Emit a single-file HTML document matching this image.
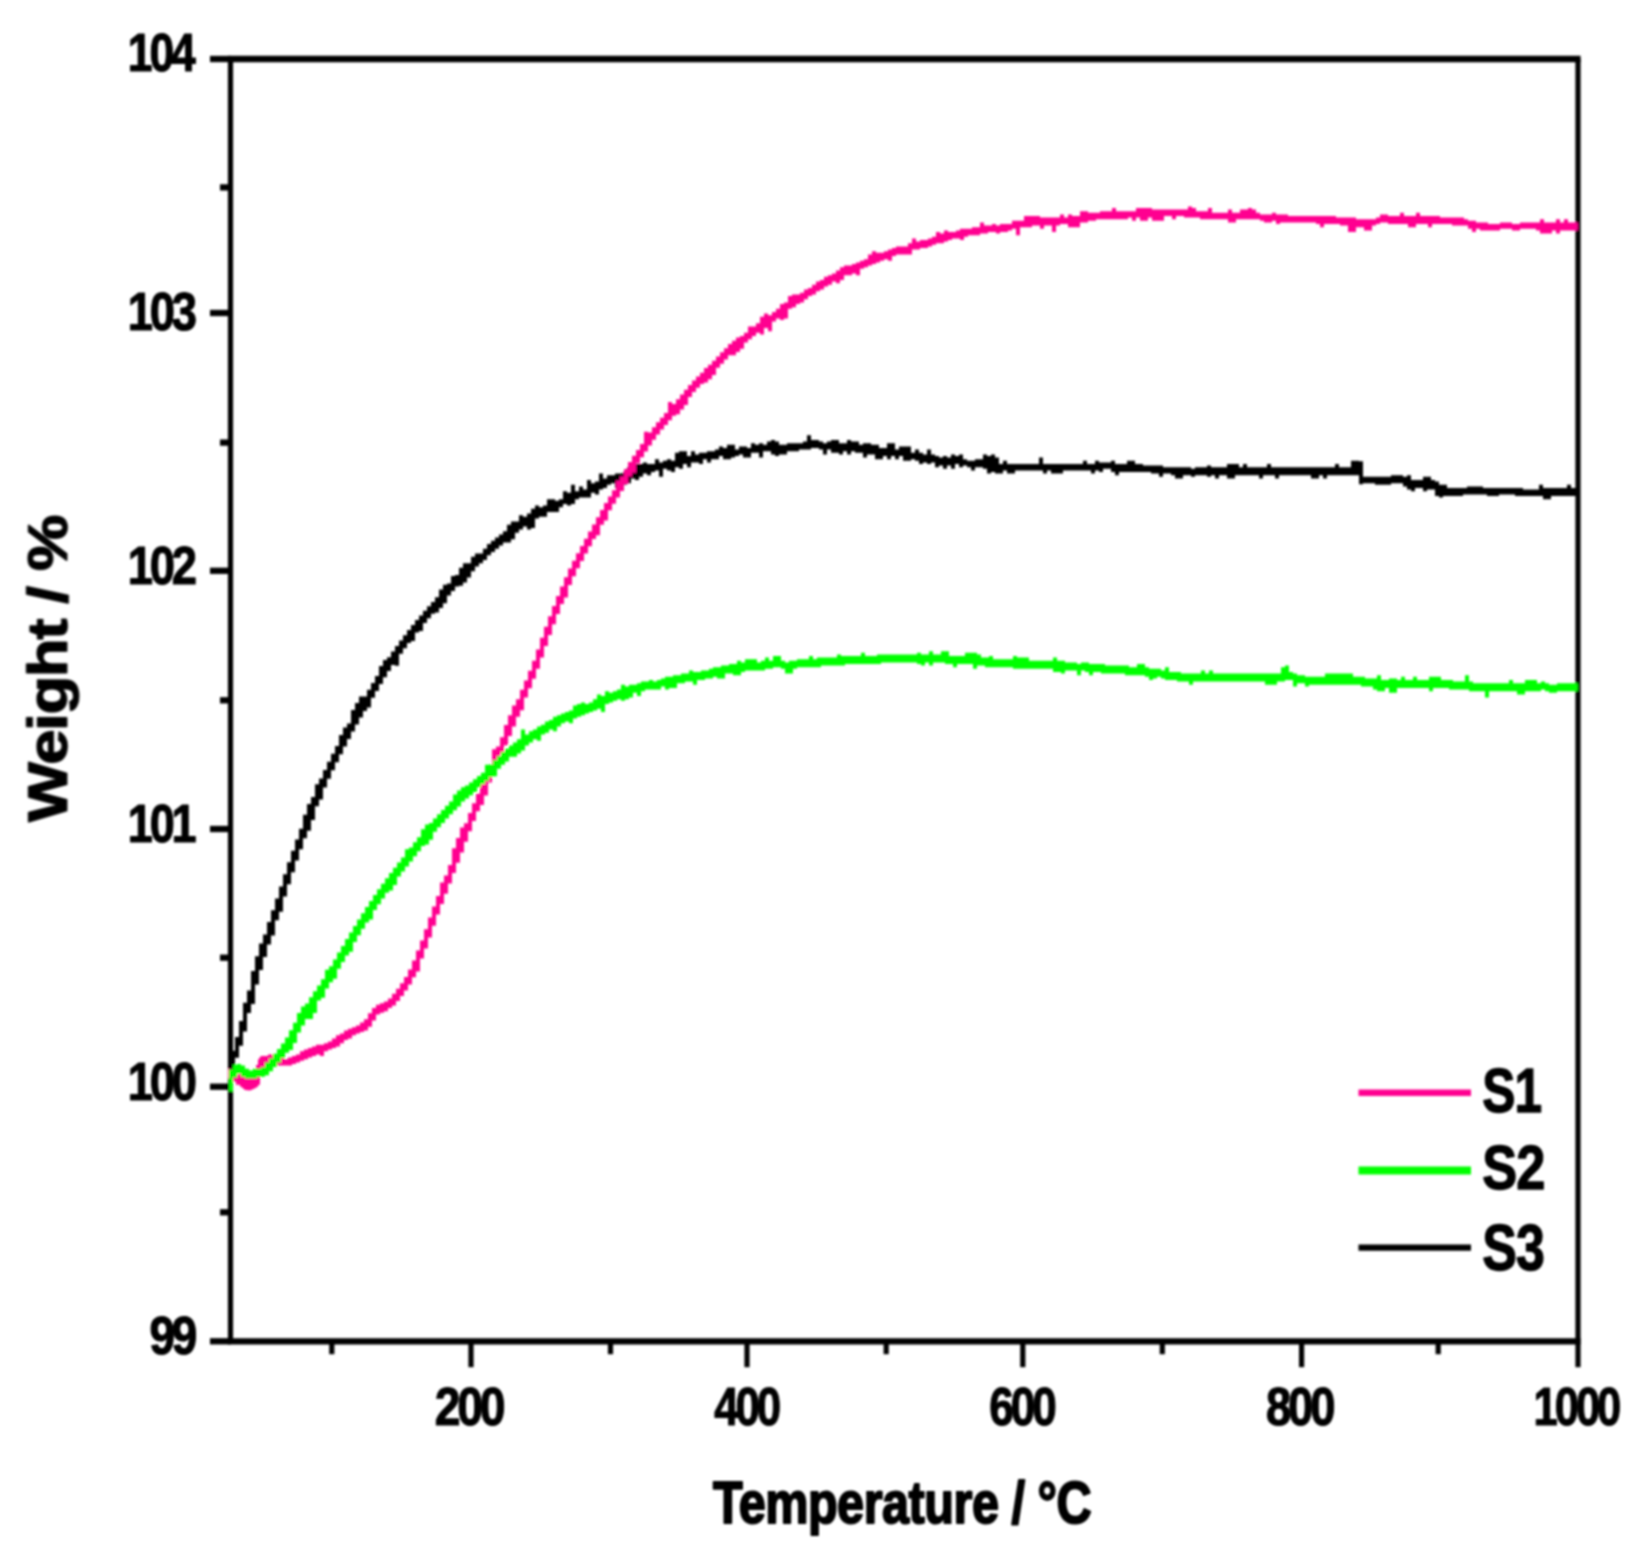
<!DOCTYPE html>
<html lang="en"><head><meta charset="utf-8"><title>TGA curves: Weight / % vs Temperature / °C</title>
<style>
html,body{margin:0;padding:0;background:#fff;}
body{width:1648px;height:1561px;overflow:hidden;font-family:"Liberation Sans",sans-serif;}
svg{display:block;}
</style></head>
<body>
<svg width="1648" height="1561" viewBox="0 0 1648 1561">
<defs><filter id="soft" x="0" y="0" width="1648" height="1561" filterUnits="userSpaceOnUse"><feGaussianBlur stdDeviation="0.85"/></filter></defs>
<rect width="1648" height="1561" fill="#fff"/>
<g filter="url(#soft)">
<g stroke="#000" fill="none" stroke-linecap="butt">
<line x1="230.5" y1="59.0" x2="230.5" y2="1341.3" stroke-width="5.2"/>
<line x1="1578.0" y1="59.0" x2="1578.0" y2="1341.3" stroke-width="5.2"/>
<line x1="227.9" y1="59.0" x2="1580.6" y2="59.0" stroke-width="6.3"/>
<line x1="227.9" y1="1341.3" x2="1580.6" y2="1341.3" stroke-width="6.3"/>
<line x1="210" y1="59.0" x2="230.5" y2="59.0" stroke-width="6.3"/>
<line x1="210" y1="313.0" x2="230.5" y2="313.0" stroke-width="6.3"/>
<line x1="210" y1="570.8" x2="230.5" y2="570.8" stroke-width="6.3"/>
<line x1="210" y1="829.0" x2="230.5" y2="829.0" stroke-width="6.3"/>
<line x1="210" y1="1086.7" x2="230.5" y2="1086.7" stroke-width="6.3"/>
<line x1="210" y1="1341.3" x2="230.5" y2="1341.3" stroke-width="6.3"/>
<line x1="220" y1="187.4" x2="230.5" y2="187.4" stroke-width="6.3"/>
<line x1="220" y1="442.6" x2="230.5" y2="442.6" stroke-width="6.3"/>
<line x1="220" y1="700.3" x2="230.5" y2="700.3" stroke-width="6.3"/>
<line x1="220" y1="957.7" x2="230.5" y2="957.7" stroke-width="6.3"/>
<line x1="220" y1="1212.3" x2="230.5" y2="1212.3" stroke-width="6.3"/>
<line x1="471.0" y1="1341.3" x2="471.0" y2="1367.2" stroke-width="5.2"/>
<line x1="747.0" y1="1341.3" x2="747.0" y2="1367.2" stroke-width="5.2"/>
<line x1="1022.8" y1="1341.3" x2="1022.8" y2="1367.2" stroke-width="5.2"/>
<line x1="1301.6" y1="1341.3" x2="1301.6" y2="1367.2" stroke-width="5.2"/>
<line x1="1578.0" y1="1341.3" x2="1578.0" y2="1367.2" stroke-width="5.2"/>
<line x1="331.8" y1="1341.3" x2="331.8" y2="1354.2" stroke-width="5.2"/>
<line x1="610.5" y1="1341.3" x2="610.5" y2="1354.2" stroke-width="5.2"/>
<line x1="886.2" y1="1341.3" x2="886.2" y2="1354.2" stroke-width="5.2"/>
<line x1="1162.3" y1="1341.3" x2="1162.3" y2="1354.2" stroke-width="5.2"/>
<line x1="1438.2" y1="1341.3" x2="1438.2" y2="1354.2" stroke-width="5.2"/>
</g>
<g stroke="none">
<path fill="#000" d="M231.0,1050.8H235.0V1037.1H239.0V1021.0H243.0V1002.7H247.0V990.4H251.0V970.9H255.0V956.3H259.0V943.4H263.0V934.5H267.0V922.1H271.0V910.3H275.0V898.5H279.0V886.4H283.0V874.2H287.0V862.2H291.0V850.8H295.0V839.6H299.0V828.7H303.0V814.7H307.0V804.0H311.0V797.0H315.0V784.3H319.0V778.6H323.0V770.1H327.0V761.8H331.0V753.7H335.0V745.9H339.0V735.1H343.0V727.5H347.0V723.4H351.0V709.9H355.0V703.0H359.0V696.5H363.0V696.4H367.0V689.7H371.0V682.9H375.0V676.0H379.0V666.1H383.0V659.9H387.0V657.2H391.0V651.5H395.0V646.0H399.0V640.6H403.0V635.2H407.0V630.1H411.0V625.0H415.0V620.1H419.0V615.4H423.0V610.8H427.0V606.3H431.0V601.9H435.0V597.3H439.0V589.4H443.0V584.8H447.0V583.5H451.0V576.0H455.0V575.0H459.0V567.8H463.0V563.2H467.0V563.2H471.0V556.8H475.0V553.6H479.0V553.6H483.0V548.8H487.0V544.0H491.0V540.8H495.0V537.6H499.0V534.4H503.0V531.2H507.0V524.8H511.0V521.6H515.0V521.6H519.0V515.2H523.0V516.8H527.0V513.6H531.0V508.8H535.0V505.6H539.0V507.2H543.0V505.6H547.0V499.2H551.0V499.2H555.0V500.8H559.0V499.2H563.0V491.2H567.0V492.8H571.0V484.8H575.0V491.2H579.0V486.4H583.0V489.6H587.0V480.0H591.0V483.2H595.0V481.6H599.0V473.6H603.0V478.4H607.0V475.2H611.0V475.2H615.0V473.6H619.0V473.6H623.0V472.0H627.0V467.2H631.0V468.8H635.0V464.0H639.0V464.0H643.0V462.4H647.0V464.0H651.0V464.0H655.0V459.2H659.0V462.4H663.0V460.8H667.0V459.2H671.0V460.8H675.0V452.8H679.0V451.2H683.0V451.2H687.0V456.0H691.0V451.2H695.0V454.4H699.0V452.8H703.0V452.8H707.0V451.2H711.0V451.2H715.0V449.6H719.0V446.4H723.0V448.0H727.0V444.8H731.0V444.8H735.0V449.6H739.0V446.4H743.0V446.4H747.0V448.0H751.0V443.2H755.0V444.8H759.0V443.2H763.0V444.8H767.0V441.6H771.0V440.0H775.0V441.6H779.0V444.8H783.0V444.8H787.0V443.2H791.0V443.2H795.0V443.2H799.0V443.2H803.0V441.6H807.0V435.2H811.0V440.0H815.0V440.0H819.0V441.6H823.0V443.2H827.0V441.6H831.0V440.0H835.0V440.0H839.0V443.2H843.0V443.2H847.0V440.0H851.0V441.6H855.0V441.6H859.0V444.8H863.0V443.2H867.0V443.2H871.0V444.8H875.0V444.8H879.0V448.0H883.0V448.0H887.0V443.2H891.0V443.2H895.0V449.6H899.0V446.4H903.0V446.4H907.0V446.4H911.0V452.8H915.0V449.6H919.0V452.8H923.0V454.4H927.0V449.6H931.0V454.4H935.0V456.0H939.0V457.6H943.0V456.0H947.0V457.6H951.0V454.4H955.0V456.0H959.0V454.4H963.0V459.2H967.0V460.8H971.0V460.8H975.0V459.2H979.0V459.2H983.0V454.4H987.0V456.0H991.0V454.4H995.0V457.6H999.0V464.0H1003.0V460.8H1007.0V464.0H1011.0V464.0H1015.0V464.0H1019.0V464.0H1023.0V464.0H1027.0V464.0H1031.0V464.0H1035.0V464.0H1039.0V457.6H1043.0V464.0H1047.0V464.0H1051.0V464.0H1055.0V464.0H1059.0V464.0H1063.0V464.0H1067.0V464.0H1071.0V464.0H1075.0V464.0H1079.0V464.0H1083.0V460.8H1087.0V464.0H1091.0V464.0H1095.0V460.8H1099.0V462.4H1103.0V462.4H1107.0V462.4H1111.0V460.8H1115.0V464.0H1119.0V464.0H1123.0V464.0H1127.0V460.8H1131.0V460.8H1135.0V464.0H1139.0V464.0H1143.0V465.6H1147.0V465.6H1151.0V465.6H1155.0V465.6H1159.0V465.6H1163.0V467.2H1167.0V467.2H1171.0V467.2H1175.0V467.2H1179.0V467.2H1183.0V467.2H1187.0V467.2H1191.0V468.8H1195.0V467.2H1199.0V467.2H1203.0V467.2H1207.0V465.6H1211.0V467.2H1215.0V467.2H1219.0V467.2H1223.0V467.2H1227.0V464.0H1231.0V464.0H1235.0V464.0H1239.0V467.2H1243.0V464.0H1247.0V467.2H1251.0V467.2H1255.0V467.2H1259.0V467.2H1263.0V467.2H1267.0V464.0H1271.0V467.2H1275.0V467.2H1279.0V467.2H1283.0V467.2H1287.0V467.2H1291.0V467.2H1295.0V467.2H1299.0V467.2H1303.0V467.2H1307.0V467.2H1311.0V467.2H1315.0V467.2H1319.0V467.2H1323.0V467.2H1327.0V467.2H1331.0V467.2H1335.0V464.0H1339.0V467.2H1343.0V467.2H1347.0V467.2H1351.0V460.8H1355.0V460.8H1359.0V461.2H1363.0V476.8H1367.0V476.8H1371.0V476.8H1375.0V476.8H1379.0V476.8H1383.0V476.8H1387.0V476.8H1391.0V475.2H1395.0V475.2H1399.0V475.2H1403.0V476.8H1407.0V475.2H1411.0V480.0H1415.0V480.0H1419.0V480.0H1423.0V476.8H1427.0V476.8H1431.0V480.0H1435.0V481.6H1439.0V484.8H1443.0V484.8H1447.0V488.0H1451.0V488.0H1455.0V488.0H1459.0V488.0H1463.0V488.0H1467.0V486.4H1471.0V486.4H1475.0V486.4H1479.0V486.4H1483.0V488.0H1487.0V488.0H1491.0V488.0H1495.0V488.0H1499.0V488.0H1503.0V488.0H1507.0V488.0H1511.0V488.0H1515.0V488.0H1519.0V488.0H1523.0V489.6H1527.0V489.6H1531.0V489.6H1535.0V489.6H1539.0V484.8H1543.0V488.0H1547.0V488.0H1551.0V488.0H1555.0V488.0H1559.0V488.0H1563.0V488.0H1567.0V484.8H1571.0V488.0H1575.0V488.0H1577.8V496.0H1575.0V496.0H1571.0V496.0H1567.0V496.0H1563.0V496.0H1559.0V496.0H1555.0V496.0H1551.0V499.2H1547.0V499.2H1543.0V496.0H1539.0V496.0H1535.0V496.0H1531.0V496.0H1527.0V496.0H1523.0V496.0H1519.0V496.0H1515.0V494.4H1511.0V494.4H1507.0V494.4H1503.0V494.4H1499.0V496.0H1495.0V496.0H1491.0V496.0H1487.0V494.4H1483.0V494.4H1479.0V494.4H1475.0V494.4H1471.0V494.4H1467.0V494.4H1463.0V496.0H1459.0V496.0H1455.0V496.0H1451.0V496.0H1447.0V496.0H1443.0V497.6H1439.0V496.0H1435.0V489.6H1431.0V489.6H1427.0V491.2H1423.0V488.0H1419.0V488.0H1415.0V491.2H1411.0V489.6H1407.0V486.4H1403.0V483.2H1399.0V483.2H1395.0V483.2H1391.0V484.8H1387.0V484.8H1383.0V484.8H1379.0V484.8H1375.0V483.2H1371.0V483.2H1367.0V483.2H1363.0V484.3H1359.0V475.2H1355.0V475.2H1351.0V475.2H1347.0V475.2H1343.0V475.2H1339.0V475.2H1335.0V475.2H1331.0V475.2H1327.0V478.4H1323.0V475.2H1319.0V478.4H1315.0V478.4H1311.0V475.2H1307.0V475.2H1303.0V475.2H1299.0V475.2H1295.0V475.2H1291.0V475.2H1287.0V475.2H1283.0V475.2H1279.0V478.4H1275.0V475.2H1271.0V475.2H1267.0V475.2H1263.0V478.4H1259.0V475.2H1255.0V475.2H1251.0V475.2H1247.0V475.2H1243.0V475.2H1239.0V475.2H1235.0V478.4H1231.0V478.4H1227.0V475.2H1223.0V475.2H1219.0V478.4H1215.0V475.2H1211.0V476.8H1207.0V475.2H1203.0V475.2H1199.0V475.2H1195.0V476.8H1191.0V475.2H1187.0V475.2H1183.0V478.4H1179.0V478.4H1175.0V475.2H1171.0V473.6H1167.0V473.6H1163.0V476.8H1159.0V473.6H1155.0V473.6H1151.0V472.0H1147.0V472.0H1143.0V472.0H1139.0V472.0H1135.0V472.0H1131.0V472.0H1127.0V472.0H1123.0V472.0H1119.0V475.2H1115.0V472.0H1111.0V468.8H1107.0V468.8H1103.0V472.0H1099.0V470.4H1095.0V473.6H1091.0V470.4H1087.0V470.4H1083.0V470.4H1079.0V470.4H1075.0V470.4H1071.0V470.4H1067.0V470.4H1063.0V473.6H1059.0V473.6H1055.0V473.6H1051.0V470.4H1047.0V473.6H1043.0V470.4H1039.0V470.4H1035.0V470.4H1031.0V470.4H1027.0V470.4H1023.0V470.4H1019.0V470.4H1015.0V473.6H1011.0V473.6H1007.0V470.4H1003.0V473.6H999.0V473.6H995.0V472.0H991.0V473.6H987.0V468.8H983.0V467.2H979.0V467.2H975.0V470.4H971.0V467.2H967.0V465.6H963.0V467.2H959.0V464.0H955.0V468.8H951.0V465.6H947.0V468.8H943.0V465.6H939.0V467.2H935.0V462.4H931.0V464.0H927.0V462.4H923.0V464.0H919.0V460.8H915.0V459.2H911.0V460.8H907.0V460.8H903.0V456.0H899.0V459.2H895.0V456.0H891.0V459.2H887.0V456.0H883.0V459.2H879.0V459.2H875.0V454.4H871.0V454.4H867.0V457.6H863.0V452.8H859.0V452.8H855.0V451.2H851.0V454.4H847.0V451.2H843.0V454.4H839.0V452.8H835.0V452.8H831.0V449.6H827.0V454.4H823.0V449.6H819.0V448.0H815.0V448.0H811.0V449.6H807.0V449.6H803.0V449.6H799.0V451.2H795.0V451.2H791.0V451.2H787.0V454.4H783.0V454.4H779.0V456.0H775.0V454.4H771.0V451.2H767.0V451.2H763.0V457.6H759.0V452.8H755.0V452.8H751.0V457.6H747.0V457.6H743.0V454.4H739.0V456.0H735.0V457.6H731.0V459.2H727.0V459.2H723.0V456.0H719.0V459.2H715.0V459.2H711.0V462.4H707.0V459.2H703.0V464.0H699.0V462.4H695.0V462.4H691.0V467.2H687.0V464.0H683.0V468.8H679.0V467.2H675.0V472.0H671.0V470.4H667.0V468.8H663.0V476.8H659.0V470.4H655.0V472.0H651.0V475.2H647.0V473.6H643.0V476.8H639.0V480.0H635.0V478.4H631.0V483.2H627.0V484.8H623.0V481.6H619.0V488.0H615.0V483.2H611.0V484.8H607.0V488.0H603.0V489.6H599.0V494.4H595.0V492.8H591.0V497.6H587.0V497.6H583.0V497.6H579.0V499.2H575.0V504.0H571.0V505.6H567.0V504.0H563.0V507.2H559.0V512.0H555.0V512.0H551.0V512.0H547.0V516.8H543.0V516.8H539.0V518.4H535.0V528.0H531.0V529.6H527.0V526.4H523.0V529.6H519.0V532.8H515.0V539.2H511.0V542.4H507.0V542.4H503.0V545.6H499.0V548.8H495.0V552.0H491.0V555.2H487.0V560.0H483.0V563.2H479.0V566.4H475.0V571.2H471.0V577.6H467.0V582.4H463.0V585.7H459.0V586.6H455.0V590.9H451.0V595.5H447.0V603.3H443.0V608.0H439.0V612.6H435.0V613.8H431.0V618.3H427.0V622.9H423.0V630.9H419.0V632.6H415.0V640.9H411.0V642.9H407.0V648.3H403.0V653.7H399.0V665.7H395.0V665.0H391.0V671.0H387.0V677.3H383.0V684.1H379.0V691.0H375.0V697.8H371.0V707.6H367.0V710.9H363.0V717.5H359.0V724.4H355.0V731.6H351.0V739.0H347.0V746.6H343.0V754.3H339.0V762.2H335.0V770.3H331.0V778.7H327.0V787.4H323.0V799.6H319.0V806.2H315.0V819.9H311.0V830.7H307.0V838.3H303.0V849.3H299.0V860.6H295.0V872.2H291.0V884.3H287.0V896.5H283.0V911.7H279.0V920.3H275.0V935.4H271.0V944.6H267.0V956.9H263.0V969.9H259.0V984.5H255.0V1003.9H251.0V1013.0H247.0V1031.4H243.0V1045.8H239.0V1057.8H235.0V1073.5H231.0Z"/>
<path fill="#ff0090" d="M228.0,1068.8H232.0V1072.0H236.0V1075.2H240.0V1078.4H244.0V1080.0H248.0V1080.0H252.0V1076.8H256.0V1065.1H260.0V1057.4H264.0V1056.0H268.0V1054.4H272.0V1054.4H276.0V1057.6H280.0V1057.6H284.0V1059.2H288.0V1057.6H292.0V1056.0H296.0V1054.4H300.0V1051.2H304.0V1049.6H308.0V1048.0H312.0V1046.4H316.0V1044.8H320.0V1044.8H324.0V1043.2H328.0V1041.6H332.0V1038.4H336.0V1035.2H340.0V1033.6H344.0V1030.4H348.0V1028.8H352.0V1027.2H356.0V1025.6H360.0V1022.4H364.0V1019.2H368.0V1013.2H372.0V1007.9H376.0V1004.8H380.0V1003.2H384.0V1001.6H388.0V998.4H392.0V993.8H396.0V988.7H400.0V983.3H404.0V977.1H408.0V969.5H412.0V960.5H416.0V950.6H420.0V940.4H424.0V929.2H428.0V917.6H432.0V906.5H436.0V896.0H440.0V882.6H444.0V875.4H448.0V865.1H452.0V848.3H456.0V837.9H460.0V827.4H464.0V823.2H468.0V813.1H472.0V803.3H476.0V793.8H480.0V784.3H484.0V774.7H488.0V765.2H492.0V749.3H496.0V746.5H500.0V737.3H504.0V724.9H508.0V715.3H512.0V705.6H516.0V699.2H520.0V689.8H524.0V680.4H528.0V670.8H532.0V660.7H536.0V649.4H540.0V637.8H544.0V626.8H548.0V616.2H552.0V606.0H556.0V596.1H560.0V586.4H564.0V577.2H568.0V568.6H572.0V560.8H576.0V553.3H580.0V546.0H584.0V538.8H588.0V531.6H592.0V524.5H596.0V517.2H600.0V509.9H604.0V502.9H608.0V496.4H612.0V490.2H616.0V480.5H620.0V476.5H624.0V469.1H628.0V462.1H632.0V455.8H636.0V449.9H640.0V444.1H644.0V431.8H648.0V432.5H652.0V427.2H656.0V422.3H660.0V417.7H664.0V413.1H668.0V402.1H672.0V403.9H676.0V399.2H680.0V394.5H684.0V389.7H688.0V384.9H692.0V380.6H696.0V376.4H700.0V372.8H704.0V368.0H708.0V364.8H712.0V360.7H716.0V356.5H720.0V352.3H724.0V348.3H728.0V344.0H732.0V340.8H736.0V337.6H740.0V336.0H744.0V332.8H748.0V326.4H752.0V326.4H756.0V323.2H760.0V316.8H764.0V313.6H768.0V315.2H772.0V312.0H776.0V308.8H780.0V304.0H784.0V302.4H788.0V296.0H792.0V294.4H796.0V294.4H800.0V292.8H804.0V289.6H808.0V288.0H812.0V284.8H816.0V281.6H820.0V280.0H824.0V276.8H828.0V275.2H832.0V273.6H836.0V270.4H840.0V267.2H844.0V265.6H848.0V265.6H852.0V264.0H856.0V262.4H860.0V260.8H864.0V259.2H868.0V254.4H872.0V251.2H876.0V252.8H880.0V252.8H884.0V251.2H888.0V249.6H892.0V248.0H896.0V246.4H900.0V246.4H904.0V246.4H908.0V243.2H912.0V238.4H916.0V241.6H920.0V240.0H924.0V240.0H928.0V238.4H932.0V236.8H936.0V232.0H940.0V233.6H944.0V230.4H948.0V232.0H952.0V232.0H956.0V230.4H960.0V228.8H964.0V228.8H968.0V228.8H972.0V227.2H976.0V227.2H980.0V222.4H984.0V225.6H988.0V225.6H992.0V224.0H996.0V225.6H1000.0V224.0H1004.0V224.0H1008.0V224.0H1012.0V220.8H1016.0V220.8H1020.0V220.8H1024.0V216.0H1028.0V216.0H1032.0V216.0H1036.0V216.0H1040.0V217.6H1044.0V217.6H1048.0V217.6H1052.0V217.6H1056.0V217.6H1060.0V214.4H1064.0V217.6H1068.0V214.4H1072.0V216.0H1076.0V216.0H1080.0V211.2H1084.0V211.2H1088.0V212.8H1092.0V212.8H1096.0V212.8H1100.0V211.2H1104.0V211.2H1108.0V211.2H1112.0V208.0H1116.0V211.2H1120.0V211.2H1124.0V211.2H1128.0V211.2H1132.0V211.2H1136.0V208.0H1140.0V208.0H1144.0V208.0H1148.0V208.0H1152.0V209.6H1156.0V209.6H1160.0V209.6H1164.0V209.6H1168.0V209.6H1172.0V209.6H1176.0V209.6H1180.0V209.6H1184.0V209.6H1188.0V206.4H1192.0V208.0H1196.0V211.2H1200.0V211.2H1204.0V211.2H1208.0V208.0H1212.0V212.8H1216.0V212.8H1220.0V212.8H1224.0V212.8H1228.0V209.6H1232.0V212.8H1236.0V212.8H1240.0V209.6H1244.0V209.6H1248.0V208.0H1252.0V209.6H1256.0V212.8H1260.0V214.4H1264.0V214.4H1268.0V214.4H1272.0V212.8H1276.0V214.4H1280.0V214.4H1284.0V214.4H1288.0V216.0H1292.0V216.0H1296.0V216.0H1300.0V216.0H1304.0V216.0H1308.0V216.0H1312.0V216.0H1316.0V216.0H1320.0V216.0H1324.0V216.0H1328.0V216.0H1332.0V216.0H1336.0V217.6H1340.0V217.6H1344.0V217.6H1348.0V217.6H1352.0V217.6H1356.0V219.2H1360.0V219.2H1364.0V219.2H1368.0V219.2H1372.0V219.2H1376.0V217.6H1380.0V214.4H1384.0V214.4H1388.0V216.0H1392.0V216.0H1396.0V216.0H1400.0V212.8H1404.0V216.0H1408.0V216.0H1412.0V216.0H1416.0V212.8H1420.0V216.0H1424.0V216.0H1428.0V216.0H1432.0V216.0H1436.0V216.0H1440.0V217.6H1444.0V217.6H1448.0V217.6H1452.0V217.6H1456.0V217.6H1460.0V217.6H1464.0V219.2H1468.0V220.8H1472.0V220.8H1476.0V222.4H1480.0V222.4H1484.0V222.4H1488.0V224.0H1492.0V224.0H1496.0V224.0H1500.0V222.4H1504.0V222.4H1508.0V222.4H1512.0V224.0H1516.0V224.0H1520.0V222.4H1524.0V222.4H1528.0V222.4H1532.0V222.4H1536.0V222.4H1540.0V219.2H1544.0V222.4H1548.0V222.4H1552.0V222.4H1556.0V219.2H1560.0V222.4H1564.0V219.2H1568.0V222.4H1572.0V222.4H1576.0V222.4H1577.8V230.4H1576.0V230.4H1572.0V230.4H1568.0V230.4H1564.0V230.4H1560.0V233.6H1556.0V230.4H1552.0V233.6H1548.0V233.6H1544.0V233.6H1540.0V230.4H1536.0V228.8H1532.0V228.8H1528.0V228.8H1524.0V228.8H1520.0V230.4H1516.0V230.4H1512.0V228.8H1508.0V228.8H1504.0V228.8H1500.0V230.4H1496.0V230.4H1492.0V230.4H1488.0V230.4H1484.0V230.4H1480.0V228.8H1476.0V232.0H1472.0V228.8H1468.0V225.6H1464.0V225.6H1460.0V225.6H1456.0V225.6H1452.0V224.0H1448.0V224.0H1444.0V224.0H1440.0V224.0H1436.0V224.0H1432.0V227.2H1428.0V224.0H1424.0V224.0H1420.0V224.0H1416.0V227.2H1412.0V227.2H1408.0V224.0H1404.0V224.0H1400.0V224.0H1396.0V224.0H1392.0V224.0H1388.0V222.4H1384.0V222.4H1380.0V224.0H1376.0V225.6H1372.0V230.4H1368.0V230.4H1364.0V227.2H1360.0V227.2H1356.0V232.0H1352.0V232.0H1348.0V225.6H1344.0V225.6H1340.0V224.0H1336.0V224.0H1332.0V224.0H1328.0V224.0H1324.0V227.2H1320.0V224.0H1316.0V222.4H1312.0V222.4H1308.0V222.4H1304.0V222.4H1300.0V222.4H1296.0V222.4H1292.0V222.4H1288.0V222.4H1284.0V222.4H1280.0V224.0H1276.0V220.8H1272.0V222.4H1268.0V222.4H1264.0V220.8H1260.0V219.2H1256.0V219.2H1252.0V219.2H1248.0V219.2H1244.0V219.2H1240.0V219.2H1236.0V222.4H1232.0V222.4H1228.0V219.2H1224.0V219.2H1220.0V219.2H1216.0V219.2H1212.0V219.2H1208.0V219.2H1204.0V219.2H1200.0V217.6H1196.0V217.6H1192.0V217.6H1188.0V217.6H1184.0V216.0H1180.0V216.0H1176.0V219.2H1172.0V216.0H1168.0V216.0H1164.0V220.8H1160.0V220.8H1156.0V220.8H1152.0V217.6H1148.0V220.8H1144.0V220.8H1140.0V217.6H1136.0V220.8H1132.0V217.6H1128.0V219.2H1124.0V219.2H1120.0V219.2H1116.0V219.2H1112.0V219.2H1108.0V219.2H1104.0V219.2H1100.0V219.2H1096.0V220.8H1092.0V220.8H1088.0V222.4H1084.0V222.4H1080.0V227.2H1076.0V227.2H1072.0V227.2H1068.0V224.0H1064.0V224.0H1060.0V225.6H1056.0V232.0H1052.0V225.6H1048.0V225.6H1044.0V228.8H1040.0V225.6H1036.0V225.6H1032.0V227.2H1028.0V227.2H1024.0V227.2H1020.0V235.2H1016.0V228.8H1012.0V230.4H1008.0V232.0H1004.0V232.0H1000.0V233.6H996.0V232.0H992.0V232.0H988.0V233.6H984.0V233.6H980.0V235.2H976.0V235.2H972.0V235.2H968.0V236.8H964.0V240.0H960.0V238.4H956.0V238.4H952.0V240.0H948.0V241.6H944.0V243.2H940.0V243.2H936.0V244.8H932.0V246.4H928.0V248.0H924.0V248.0H920.0V249.6H916.0V249.6H912.0V254.4H908.0V254.4H904.0V254.4H900.0V254.4H896.0V256.0H892.0V260.8H888.0V259.2H884.0V260.8H880.0V262.4H876.0V264.0H872.0V265.6H868.0V267.2H864.0V268.8H860.0V275.2H856.0V273.6H852.0V275.2H848.0V275.2H844.0V280.0H840.0V283.2H836.0V281.6H832.0V284.8H828.0V286.4H824.0V289.6H820.0V291.2H816.0V294.4H812.0V296.0H808.0V299.2H804.0V302.4H800.0V304.0H796.0V307.2H792.0V308.8H788.0V318.4H784.0V320.0H780.0V318.4H776.0V321.6H772.0V331.2H768.0V328.0H764.0V334.4H760.0V332.8H756.0V336.0H752.0V339.2H748.0V342.4H744.0V348.8H740.0V352.0H736.0V355.2H732.0V355.2H728.0V359.5H724.0V363.7H720.0V367.8H716.0V375.1H712.0V379.2H708.0V382.4H704.0V384.0H700.0V387.7H696.0V392.1H692.0V396.9H688.0V404.9H684.0V409.6H680.0V414.3H676.0V415.7H672.0V420.3H668.0V424.9H664.0V429.5H660.0V434.4H656.0V439.8H652.0V445.6H648.0V451.4H644.0V457.2H640.0V463.2H636.0V472.7H632.0V476.6H628.0V484.0H624.0V491.1H620.0V497.6H616.0V503.8H612.0V510.3H608.0V520.6H604.0V524.7H600.0V535.2H596.0V539.1H592.0V546.3H588.0V553.5H584.0V560.9H580.0V568.3H576.0V576.3H572.0V585.0H568.0V597.5H564.0V604.0H560.0V613.9H556.0V624.2H552.0V634.9H548.0V646.0H544.0V657.6H540.0V668.7H536.0V678.7H532.0V688.2H528.0V697.6H524.0V710.2H520.0V716.7H516.0V726.4H512.0V735.9H508.0V745.2H504.0V754.3H500.0V763.5H496.0V773.0H492.0V782.6H488.0V795.4H484.0V804.9H480.0V811.2H476.0V821.0H472.0V831.2H468.0V841.8H464.0V852.4H460.0V862.7H456.0V873.1H452.0V883.4H448.0V893.8H444.0V904.1H440.0V914.6H436.0V925.8H432.0V937.4H428.0V948.5H424.0V958.6H420.0V971.6H416.0V977.2H412.0V984.5H408.0V990.6H404.0V995.9H400.0V1001.0H396.0V1005.5H392.0V1008.0H388.0V1011.2H384.0V1012.8H380.0V1014.4H376.0V1020.5H372.0V1026.7H368.0V1030.4H364.0V1032.0H360.0V1033.6H356.0V1035.2H352.0V1038.4H348.0V1040.0H344.0V1043.2H340.0V1046.4H336.0V1048.0H332.0V1049.6H328.0V1051.2H324.0V1056.0H320.0V1054.4H316.0V1056.0H312.0V1057.6H308.0V1059.2H304.0V1060.8H300.0V1062.4H296.0V1064.0H292.0V1065.6H288.0V1065.6H284.0V1065.6H280.0V1065.6H276.0V1062.4H272.0V1062.4H268.0V1064.0H264.0V1073.0H260.0V1084.7H256.0V1086.4H252.0V1086.4H248.0V1086.4H244.0V1086.4H240.0V1084.8H236.0V1081.6H232.0V1078.4H228.0Z"/>
<path fill="#ff0090" d="M237.5,1074L237.5,1081L241,1086.5L245,1090L250,1090.6L254.5,1088.4L258,1086.6L259.5,1079L259.5,1070ZM258,1069L258,1060L261,1056L274,1056L274,1063L264,1069Z"/>
<path fill="#00ff00" d="M229.0,1069.4H233.0V1064.7H237.0V1064.0H241.0V1065.6H245.0V1068.8H249.0V1070.4H253.0V1068.8H257.0V1068.8H261.0V1067.2H265.0V1062.4H269.0V1058.5H273.0V1053.8H277.0V1049.0H281.0V1043.6H285.0V1037.5H289.0V1030.2H293.0V1022.7H297.0V1012.9H301.0V1006.5H305.0V1003.5H309.0V997.3H313.0V991.3H317.0V985.4H321.0V979.3H325.0V969.7H329.0V966.2H333.0V959.4H337.0V952.6H341.0V945.9H345.0V939.1H349.0V932.4H353.0V925.9H357.0V919.5H361.0V913.2H365.0V907.0H369.0V901.0H373.0V895.1H377.0V889.3H381.0V883.7H385.0V878.2H389.0V872.9H393.0V867.7H397.0V862.6H401.0V857.6H405.0V849.3H409.0V847.4H413.0V842.3H417.0V837.3H421.0V829.3H425.0V824.5H429.0V823.1H433.0V818.6H437.0V814.2H441.0V809.9H445.0V805.7H449.0V801.6H453.0V794.4H457.0V790.4H461.0V787.2H465.0V785.6H469.0V782.4H473.0V779.2H477.0V776.0H481.0V772.8H485.0V764.8H489.0V764.4H493.0V760.2H497.0V756.2H501.0V752.0H505.0V748.8H509.0V745.6H513.0V742.4H517.0V739.2H521.0V729.6H525.0V734.4H529.0V731.2H533.0V729.6H537.0V726.4H541.0V724.8H545.0V721.6H549.0V720.0H553.0V716.8H557.0V715.2H561.0V713.6H565.0V712.0H569.0V710.4H573.0V705.6H577.0V704.0H581.0V702.4H585.0V704.0H589.0V702.4H593.0V699.2H597.0V694.4H601.0V696.0H605.0V691.2H609.0V692.8H613.0V691.2H617.0V689.6H621.0V684.8H625.0V686.4H629.0V684.8H633.0V684.8H637.0V683.2H641.0V681.6H645.0V681.6H649.0V680.0H653.0V681.6H657.0V680.0H661.0V678.4H665.0V676.8H669.0V676.8H673.0V675.2H677.0V675.2H681.0V673.6H685.0V673.6H689.0V670.4H693.0V672.0H697.0V672.0H701.0V670.4H705.0V670.4H709.0V668.8H713.0V667.2H717.0V667.2H721.0V665.6H725.0V665.6H729.0V664.0H733.0V664.0H737.0V660.8H741.0V662.4H745.0V659.2H749.0V659.2H753.0V659.2H757.0V662.4H761.0V660.8H765.0V657.6H769.0V660.8H773.0V656.0H777.0V656.0H781.0V660.8H785.0V662.4H789.0V660.8H793.0V660.8H797.0V659.2H801.0V659.2H805.0V659.2H809.0V656.0H813.0V659.2H817.0V657.6H821.0V657.6H825.0V657.6H829.0V657.6H833.0V657.6H837.0V654.4H841.0V656.0H845.0V656.0H849.0V656.0H853.0V656.0H857.0V656.0H861.0V652.8H865.0V656.0H869.0V656.0H873.0V656.0H877.0V654.4H881.0V654.4H885.0V654.4H889.0V654.4H893.0V654.4H897.0V654.4H901.0V654.4H905.0V654.4H909.0V654.4H913.0V654.4H917.0V652.8H921.0V654.4H925.0V654.4H929.0V651.2H933.0V654.4H937.0V654.4H941.0V651.2H945.0V651.2H949.0V656.0H953.0V656.0H957.0V656.0H961.0V656.0H965.0V652.8H969.0V652.8H973.0V652.8H977.0V654.4H981.0V657.6H985.0V657.6H989.0V656.0H993.0V659.2H997.0V659.2H1001.0V659.2H1005.0V659.2H1009.0V659.2H1013.0V656.0H1017.0V657.6H1021.0V657.6H1025.0V657.6H1029.0V660.8H1033.0V660.8H1037.0V660.8H1041.0V660.8H1045.0V660.8H1049.0V660.8H1053.0V657.6H1057.0V660.8H1061.0V660.8H1065.0V662.4H1069.0V662.4H1073.0V662.4H1077.0V664.0H1081.0V662.4H1085.0V662.4H1089.0V664.0H1093.0V664.0H1097.0V664.0H1101.0V664.0H1105.0V665.6H1109.0V665.6H1113.0V665.6H1117.0V665.6H1121.0V665.6H1125.0V665.6H1129.0V667.2H1133.0V667.2H1137.0V664.0H1141.0V664.0H1145.0V667.2H1149.0V668.8H1153.0V668.8H1157.0V668.8H1161.0V670.4H1165.0V667.2H1169.0V672.0H1173.0V672.0H1177.0V672.0H1181.0V673.6H1185.0V673.6H1189.0V673.6H1193.0V673.6H1197.0V673.6H1201.0V670.4H1205.0V673.6H1209.0V670.4H1213.0V673.6H1217.0V673.6H1221.0V673.6H1225.0V673.6H1229.0V673.6H1233.0V673.6H1237.0V673.6H1241.0V673.6H1245.0V673.6H1249.0V673.6H1253.0V673.6H1257.0V673.6H1261.0V673.6H1265.0V673.6H1269.0V673.6H1273.0V673.6H1277.0V673.6H1281.0V667.2H1285.0V665.6H1289.0V672.0H1293.0V673.6H1297.0V675.2H1301.0V675.2H1305.0V676.8H1309.0V676.8H1313.0V676.8H1317.0V676.8H1321.0V676.8H1325.0V673.6H1329.0V673.6H1333.0V673.6H1337.0V673.6H1341.0V673.6H1345.0V673.6H1349.0V673.6H1353.0V676.8H1357.0V676.8H1361.0V676.8H1365.0V678.4H1369.0V678.4H1373.0V678.4H1377.0V675.2H1381.0V680.0H1385.0V680.0H1389.0V678.4H1393.0V678.4H1397.0V680.0H1401.0V676.8H1405.0V680.0H1409.0V680.0H1413.0V676.8H1417.0V680.0H1421.0V680.0H1425.0V680.0H1429.0V676.8H1433.0V676.8H1437.0V676.8H1441.0V680.0H1445.0V680.0H1449.0V680.0H1453.0V681.6H1457.0V681.6H1461.0V681.6H1465.0V675.2H1469.0V681.6H1473.0V683.2H1477.0V683.2H1481.0V683.2H1485.0V683.2H1489.0V683.2H1493.0V683.2H1497.0V683.2H1501.0V683.2H1505.0V683.2H1509.0V680.0H1513.0V683.2H1517.0V683.2H1521.0V683.2H1525.0V680.0H1529.0V680.0H1533.0V680.0H1537.0V683.2H1541.0V681.6H1545.0V683.2H1549.0V684.8H1553.0V684.8H1557.0V683.2H1561.0V683.2H1565.0V683.2H1569.0V683.2H1573.0V683.2H1577.0V683.2H1577.8V691.2H1577.0V691.2H1573.0V691.2H1569.0V691.2H1565.0V691.2H1561.0V691.2H1557.0V692.8H1553.0V692.8H1549.0V691.2H1545.0V689.6H1541.0V691.2H1537.0V691.2H1533.0V691.2H1529.0V691.2H1525.0V694.4H1521.0V694.4H1517.0V691.2H1513.0V691.2H1509.0V691.2H1505.0V691.2H1501.0V691.2H1497.0V691.2H1493.0V691.2H1489.0V697.6H1485.0V691.2H1481.0V691.2H1477.0V691.2H1473.0V691.2H1469.0V689.6H1465.0V689.6H1461.0V689.6H1457.0V689.6H1453.0V689.6H1449.0V688.0H1445.0V688.0H1441.0V688.0H1437.0V688.0H1433.0V691.2H1429.0V688.0H1425.0V688.0H1421.0V688.0H1417.0V688.0H1413.0V688.0H1409.0V688.0H1405.0V688.0H1401.0V688.0H1397.0V692.8H1393.0V692.8H1389.0V688.0H1385.0V691.2H1381.0V691.2H1377.0V689.6H1373.0V686.4H1369.0V686.4H1365.0V686.4H1361.0V684.8H1357.0V684.8H1353.0V684.8H1349.0V684.8H1345.0V684.8H1341.0V684.8H1337.0V684.8H1333.0V684.8H1329.0V684.8H1325.0V684.8H1321.0V684.8H1317.0V684.8H1313.0V684.8H1309.0V686.4H1305.0V683.2H1301.0V683.2H1297.0V686.4H1293.0V680.0H1289.0V680.0H1285.0V681.6H1281.0V681.6H1277.0V684.8H1273.0V684.8H1269.0V684.8H1265.0V681.6H1261.0V681.6H1257.0V681.6H1253.0V681.6H1249.0V681.6H1245.0V681.6H1241.0V681.6H1237.0V681.6H1233.0V681.6H1229.0V681.6H1225.0V681.6H1221.0V681.6H1217.0V681.6H1213.0V681.6H1209.0V681.6H1205.0V681.6H1201.0V681.6H1197.0V681.6H1193.0V684.8H1189.0V681.6H1185.0V681.6H1181.0V681.6H1177.0V680.0H1173.0V680.0H1169.0V680.0H1165.0V678.4H1161.0V676.8H1157.0V678.4H1153.0V680.0H1149.0V676.8H1145.0V675.2H1141.0V675.2H1137.0V675.2H1133.0V675.2H1129.0V675.2H1125.0V673.6H1121.0V673.6H1117.0V673.6H1113.0V673.6H1109.0V673.6H1105.0V673.6H1101.0V672.0H1097.0V672.0H1093.0V675.2H1089.0V672.0H1085.0V670.4H1081.0V675.2H1077.0V670.4H1073.0V670.4H1069.0V670.4H1065.0V673.6H1061.0V672.0H1057.0V672.0H1053.0V668.8H1049.0V668.8H1045.0V668.8H1041.0V668.8H1037.0V668.8H1033.0V668.8H1029.0V668.8H1025.0V668.8H1021.0V668.8H1017.0V668.8H1013.0V667.2H1009.0V667.2H1005.0V667.2H1001.0V667.2H997.0V667.2H993.0V667.2H989.0V667.2H985.0V665.6H981.0V665.6H977.0V668.8H973.0V664.0H969.0V664.0H965.0V664.0H961.0V664.0H957.0V667.2H953.0V664.0H949.0V664.0H945.0V662.4H941.0V662.4H937.0V662.4H933.0V665.6H929.0V662.4H925.0V665.6H921.0V664.0H917.0V662.4H913.0V662.4H909.0V662.4H905.0V662.4H901.0V662.4H897.0V662.4H893.0V662.4H889.0V662.4H885.0V662.4H881.0V664.0H877.0V664.0H873.0V664.0H869.0V664.0H865.0V664.0H861.0V664.0H857.0V664.0H853.0V664.0H849.0V664.0H845.0V665.6H841.0V665.6H837.0V665.6H833.0V665.6H829.0V665.6H825.0V665.6H821.0V667.2H817.0V667.2H813.0V667.2H809.0V667.2H805.0V667.2H801.0V667.2H797.0V668.8H793.0V673.6H789.0V673.6H785.0V668.8H781.0V667.2H777.0V667.2H773.0V668.8H769.0V668.8H765.0V670.4H761.0V670.4H757.0V670.4H753.0V670.4H749.0V670.4H745.0V672.0H741.0V675.2H737.0V675.2H733.0V673.6H729.0V673.6H725.0V678.4H721.0V678.4H717.0V676.8H713.0V678.4H709.0V678.4H705.0V680.0H701.0V680.0H697.0V684.8H693.0V681.6H689.0V681.6H685.0V683.2H681.0V683.2H677.0V688.0H673.0V688.0H669.0V689.6H665.0V686.4H661.0V689.6H657.0V689.6H653.0V689.6H649.0V689.6H645.0V691.2H641.0V696.0H637.0V692.8H633.0V697.6H629.0V699.2H625.0V700.8H621.0V699.2H617.0V700.8H613.0V702.4H609.0V704.0H605.0V712.0H601.0V708.8H597.0V710.4H593.0V712.0H589.0V713.6H585.0V715.2H581.0V716.8H577.0V718.4H573.0V723.2H569.0V721.6H565.0V723.2H561.0V726.4H557.0V731.2H553.0V729.6H549.0V732.8H545.0V734.4H541.0V740.8H537.0V739.2H533.0V742.4H529.0V745.6H525.0V750.4H521.0V753.6H517.0V756.8H513.0V756.8H509.0V761.6H505.0V764.8H501.0V768.8H497.0V776.2H493.0V777.1H489.0V780.8H485.0V784.0H481.0V787.2H477.0V792.0H473.0V795.2H469.0V798.4H465.0V801.6H461.0V806.4H457.0V810.2H453.0V814.3H449.0V818.5H445.0V822.9H441.0V827.3H437.0V831.8H433.0V839.7H429.0V844.4H425.0V846.1H421.0V851.2H417.0V856.2H413.0V861.4H409.0V866.4H405.0V871.5H401.0V876.6H397.0V885.0H393.0V890.4H389.0V892.7H385.0V898.4H381.0V904.2H377.0V910.1H373.0V919.4H369.0V922.5H365.0V928.8H361.0V935.3H357.0V941.9H353.0V951.8H349.0V955.4H345.0V962.1H341.0V968.8H337.0V978.8H333.0V982.2H329.0V988.6H325.0V997.8H321.0V1000.5H317.0V1012.9H313.0V1019.1H309.0V1019.0H305.0V1025.5H301.0V1032.4H297.0V1043.1H293.0V1050.1H289.0V1052.7H285.0V1057.9H281.0V1062.6H277.0V1067.1H273.0V1071.3H269.0V1075.2H265.0V1076.8H261.0V1076.8H257.0V1078.4H253.0V1078.4H249.0V1078.4H245.0V1076.8H241.0V1073.6H237.0V1077.4H233.0V1091.6H229.0Z"/>
</g>
<g fill="none">
<line x1="1358.5" y1="1092.8" x2="1471" y2="1092.8" stroke="#ff0090" stroke-width="6.6"/>
<line x1="1358.5" y1="1170.5" x2="1471" y2="1170.5" stroke="#00ff00" stroke-width="7.9"/>
<line x1="1358.5" y1="1247.6" x2="1471" y2="1247.6" stroke="#000" stroke-width="6.4"/>
</g>
<g font-family="'Liberation Sans', sans-serif" font-weight="bold">
<text transform="matrix(0.4446 0 0 0.5384 127.78 71.22)" font-size="100" letter-spacing="-7" fill="#000" stroke="#000" stroke-width="2.2" stroke-linejoin="round">104</text>
<text transform="matrix(0.4538 0 0 0.5452 127.73 329.51)" font-size="100" letter-spacing="-7" fill="#000" stroke="#000" stroke-width="2.2" stroke-linejoin="round">103</text>
<text transform="matrix(0.4538 0 0 0.5438 127.73 583.91)" font-size="100" letter-spacing="-7" fill="#000" stroke="#000" stroke-width="2.2" stroke-linejoin="round">102</text>
<text transform="matrix(0.4507 0 0 0.5425 127.75 841.52)" font-size="100" letter-spacing="-7" fill="#000" stroke="#000" stroke-width="2.2" stroke-linejoin="round">101</text>
<text transform="matrix(0.4538 0 0 0.5452 127.73 1099.51)" font-size="100" letter-spacing="-7" fill="#000" stroke="#000" stroke-width="2.2" stroke-linejoin="round">100</text>
<text transform="matrix(0.4596 0 0 0.5342 149.38 1353.53)" font-size="100" letter-spacing="-7" fill="#000" stroke="#000" stroke-width="2.2" stroke-linejoin="round">99</text>
<text transform="matrix(0.4635 0 0 0.5342 434.67 1424.73)" font-size="100" letter-spacing="-7" fill="#000" stroke="#000" stroke-width="2.2" stroke-linejoin="round">200</text>
<text transform="matrix(0.4387 0 0 0.5342 714.20 1424.73)" font-size="100" letter-spacing="-7" fill="#000" stroke="#000" stroke-width="2.2" stroke-linejoin="round">400</text>
<text transform="matrix(0.4408 0 0 0.5342 989.28 1424.73)" font-size="100" letter-spacing="-7" fill="#000" stroke="#000" stroke-width="2.2" stroke-linejoin="round">600</text>
<text transform="matrix(0.4541 0 0 0.5342 1265.99 1424.73)" font-size="100" letter-spacing="-7" fill="#000" stroke="#000" stroke-width="2.2" stroke-linejoin="round">800</text>
<text transform="matrix(0.4352 0 0 0.5342 1533.62 1424.73)" font-size="100" letter-spacing="-7" fill="#000" stroke="#000" stroke-width="2.2" stroke-linejoin="round">1000</text>
<text transform="matrix(0.4974 0 0 0.6370 1482.31 1111.53)" font-size="100" letter-spacing="-2" fill="#000" stroke="#000" stroke-width="2.2" stroke-linejoin="round">S1</text>
<text transform="matrix(0.5243 0 0 0.6315 1482.25 1188.74)" font-size="100" letter-spacing="-2" fill="#000" stroke="#000" stroke-width="2.2" stroke-linejoin="round">S2</text>
<text transform="matrix(0.5198 0 0 0.6466 1482.26 1269.91)" font-size="100" letter-spacing="-2" fill="#000" stroke="#000" stroke-width="2.2" stroke-linejoin="round">S3</text>
<text transform="matrix(0.4860 0 0 0.5918 713.09 1522.99)" font-size="100" letter-spacing="-1" fill="#000" stroke="#000" stroke-width="3.5" stroke-linejoin="round">Temperature / °C</text>
<text transform="translate(67.04 821.97) rotate(-90) scale(0.6326 0.5573)" font-size="100" letter-spacing="-2" stroke="#000" stroke-width="2.5" stroke-linejoin="round">Weight / %</text>
</g>
</g>
</svg>
</body></html>
